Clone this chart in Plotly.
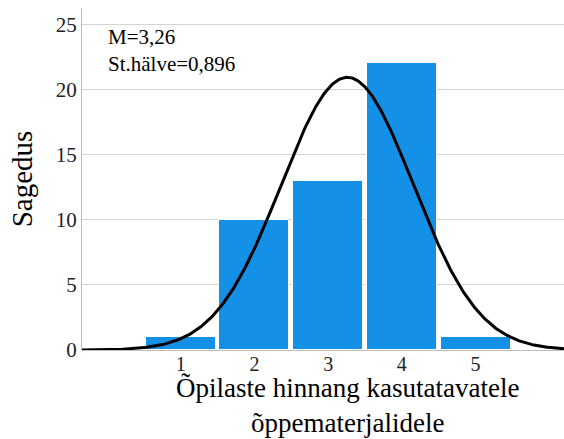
import numpy as np
import plotly.graph_objects as go

categories = [1, 2, 3, 4, 5]
counts = [1, 10, 13, 22, 1]
mean_val = 3.26
sd_val = 0.896
n_total = sum(counts)

x_min, x_max = -0.34, 6.2
xs = np.linspace(x_min, x_max, 400)
ys = n_total * np.exp(-0.5 * ((xs - mean_val) / sd_val) ** 2) / (sd_val * np.sqrt(2 * np.pi))

serif = "Liberation Serif"

fig = go.Figure()
fig.add_trace(go.Bar(x=categories, y=counts, width=0.95,
                     marker=dict(color="#1490e6", line=dict(color="white", width=1)),
                     showlegend=False, hoverinfo="skip"))
fig.add_trace(go.Scatter(x=xs, y=ys, mode="lines", line=dict(color="black", width=3),
                         showlegend=False, hoverinfo="skip"))

fig.add_annotation(x=0.05, y=0.955, xref="paper", yref="paper", xanchor="left", yanchor="top",
                   align="left", showarrow=False,
                   text="M=3,26<br>St.hälve=0,896",
                   font=dict(family=serif, size=21, color="black"))

# x-axis title (placed as annotation so it can sit right of centre, like the reference)
fig.add_annotation(x=0.55, y=-0.162, xref="paper", yref="paper", xanchor="center", yanchor="middle",
                   align="center", showarrow=False,
                   text="Õpilaste hinnang kasutatavatele<br>õppematerjalidele",
                   font=dict(family=serif, size=27, color="black"))

fig.update_layout(
    width=564, height=439,
    margin=dict(l=82, r=0, t=8, b=89),
    paper_bgcolor="white", plot_bgcolor="white",
    bargap=0,
    font=dict(family=serif, color="black"),
    xaxis=dict(range=[x_min, x_max], tickvals=categories, ticktext=[str(c) for c in categories],
               showgrid=False, zeroline=False, showline=False, ticks="", automargin=False,
               tickfont=dict(family=serif, size=20, color="#222")),
    yaxis=dict(range=[0, 26.25], tickvals=[0, 5, 10, 15, 20, 25],
               showgrid=True, gridcolor="#d4d4d4", gridwidth=1,
               zeroline=True, zerolinecolor="#bdbdbd", zerolinewidth=1,
               showline=True, linecolor="#bdbdbd", linewidth=1, ticks="", automargin=False,
               tickfont=dict(family=serif, size=21, color="#222"),
               title=dict(text="Sagedus", font=dict(family=serif, size=29, color="black"), standoff=14)),
)

fig.write_html("out.html", config={"displayModeBar": False},
               post_script="document.body.style.margin='0';")
